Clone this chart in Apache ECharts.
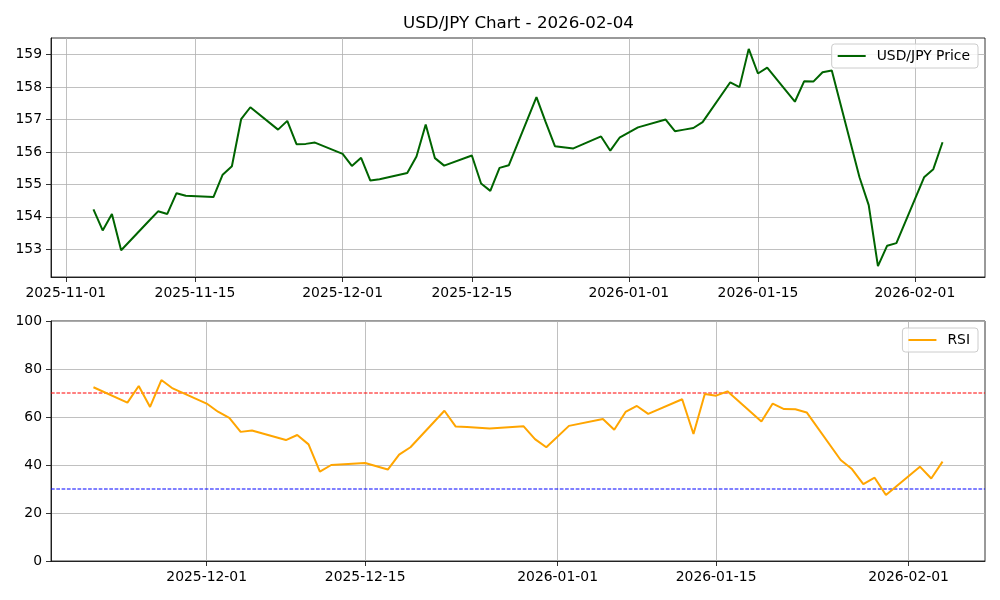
<!DOCTYPE html>
<html><head><meta charset="utf-8">
<script src="https://cdn.jsdelivr.net/npm/echarts@6/dist/echarts.min.js"></script>
<style>html,body{margin:0;padding:0;background:#fff}#c{width:1000px;height:600px}</style>
</head><body><div id="c"></div>
<script>
const priceDates = ['2025-11-04','2025-11-05','2025-11-06','2025-11-07','2025-11-10','2025-11-11','2025-11-12','2025-11-13','2025-11-14',
'2025-11-17','2025-11-18','2025-11-19','2025-11-20','2025-11-21','2025-11-24','2025-11-25','2025-11-26','2025-11-27','2025-11-28',
'2025-12-01','2025-12-02','2025-12-03','2025-12-04','2025-12-05','2025-12-08','2025-12-09','2025-12-10','2025-12-11','2025-12-12',
'2025-12-15','2025-12-16','2025-12-17','2025-12-18','2025-12-19','2025-12-22','2025-12-23','2025-12-24','2025-12-26',
'2025-12-29','2025-12-30','2025-12-31','2026-01-02','2026-01-05','2026-01-06','2026-01-07','2026-01-08','2026-01-09',
'2026-01-12','2026-01-13','2026-01-14','2026-01-15','2026-01-16','2026-01-19','2026-01-20','2026-01-21','2026-01-22','2026-01-23',
'2026-01-26','2026-01-27','2026-01-28','2026-01-29','2026-01-30','2026-02-02','2026-02-03','2026-02-04'];
const priceValues = [154.23,153.58,154.09,152.97,153.87,154.17,154.09,154.73,154.65,
154.61,155.30,155.56,157.01,157.38,156.69,156.96,156.24,156.25,156.29,
155.94,155.57,155.82,155.12,155.16,155.35,155.86,156.85,155.81,155.58,
155.89,155.03,154.80,155.51,155.59,157.69,156.92,156.18,156.11,
156.48,156.04,156.44,156.76,157.00,156.64,156.69,156.74,156.92,
158.15,158.00,159.18,158.42,158.60,157.55,158.18,158.17,158.46,158.51,
155.22,154.36,152.48,153.11,153.19,155.22,155.47,156.30];

const rsiDates = ['2025-11-21','2025-11-24','2025-11-25','2025-11-26','2025-11-27','2025-11-28',
'2025-12-01','2025-12-02','2025-12-03','2025-12-04','2025-12-05','2025-12-08','2025-12-09','2025-12-10','2025-12-11','2025-12-12',
'2025-12-15','2025-12-16','2025-12-17','2025-12-18','2025-12-19','2025-12-22','2025-12-23','2025-12-24','2025-12-26',
'2025-12-29','2025-12-30','2025-12-31','2026-01-02','2026-01-05','2026-01-06','2026-01-07','2026-01-08','2026-01-09',
'2026-01-12','2026-01-13','2026-01-14','2026-01-15','2026-01-16','2026-01-19','2026-01-20','2026-01-21','2026-01-22','2026-01-23',
'2026-01-26','2026-01-27','2026-01-28','2026-01-29','2026-01-30','2026-02-02','2026-02-03','2026-02-04'];
const rsiValues = [72.4,66.0,72.9,64.2,75.4,71.9,
65.6,62.2,59.6,53.8,54.4,50.4,52.5,48.6,37.2,40.0,
40.8,39.5,38.1,44.3,47.4,62.6,56.0,55.8,55.2,
56.1,50.8,47.4,56.3,59.2,54.7,62.1,64.6,61.3,
67.4,52.9,69.6,68.9,70.7,58.1,65.6,63.3,63.2,61.9,
42.1,38.3,32.0,34.7,27.5,39.3,34.4,41.4];

const priceTickDates = ['2025-11-01','2025-11-15','2025-12-01','2025-12-15','2026-01-01','2026-01-15','2026-02-01'];
const rsiTickDates = ['2025-12-01','2025-12-15','2026-01-01','2026-01-15','2026-02-01'];
const priceTicks = [153,154,155,156,157,158,159];
const rsiTicks = [0,20,40,60,80,100];
const overbought = 70;
const oversold = 30;
const titleText = 'USD/JPY Chart - 2026-02-04';
const priceName = 'USD/JPY Price';
const rsiName = 'RSI';

function ts(s){const p=s.split('-').map(Number);return new Date(p[0],p[1]-1,p[2]).getTime();}
function fmt(v){const d=new Date(v);const p=n=>String(n).padStart(2,'0');return d.getFullYear()+'-'+p(d.getMonth()+1)+'-'+p(d.getDate());}
function pad(lo,hi){const r=hi-lo;return [lo-0.05*r,hi+0.05*r];}

const px = pad(ts(priceDates[0]), ts(priceDates[priceDates.length-1]));
const rx = pad(ts(rsiDates[0]), ts(rsiDates[rsiDates.length-1]));
const py = pad(Math.min(...priceValues), Math.max(...priceValues));

const FONT = 'DejaVu Sans';
const gridLine = {show:true, lineStyle:{color:'#b0b0b0', width:0.8}};
const axisLine = {show:true, onZero:false, lineStyle:{color:'#000', width:0.8}};
const tick = (vals)=>({show:true, inside:false, length:5, lineStyle:{color:'#000', width:0.8}, customValues:vals});
const lbl = (vals, f, m)=>({customValues:vals, formatter:f, color:'#000', fontFamily:FONT, fontSize:13.9, margin:m, hideOverlap:false, showMinLabel:true, showMaxLabel:true});

const legendBase = {orient:'vertical', borderColor:'#cccccc', borderWidth:1, borderRadius:3, backgroundColor:'rgba(255,255,255,0.8)',
  icon:'rect', itemWidth:28, itemHeight:2, padding:[5,8,5,6], textStyle:{fontFamily:FONT, fontSize:13.9, color:'#000', padding:[0,0,0,6], lineHeight:14}};

function hline(name, value, color){
  return {name:name, type:'line', xAxisIndex:1, yAxisIndex:1, symbol:'none', showSymbol:false, silent:true, z:1,
    lineStyle:{color:color, width:1, type:[3.7,1.6]}, itemStyle:{color:color},
    data:[[rx[0], value],[rx[1], value]]};
}

const chart = echarts.init(document.getElementById('c'), null, {renderer:'canvas'});
chart.setOption({
  animation:false,
  backgroundColor:'#fff',
  title:{text:titleText, left:398, top:10, textStyle:{fontFamily:FONT, fontSize:16.7, fontWeight:'normal', color:'#000'}},
  legend:[
    Object.assign({}, legendBase, {data:[priceName], right:22, top:44}),
    Object.assign({}, legendBase, {data:[rsiName], right:22, top:328})
  ],
  grid:[
    {left:51, right:15, top:38, height:239, show:true, borderColor:'#000', borderWidth:0.8, containLabel:false},
    {left:51, right:15, top:321, height:240, show:true, borderColor:'#000', borderWidth:0.8, containLabel:false}
  ],
  xAxis:[
    {type:'value', gridIndex:0, min:px[0], max:px[1], scale:true, axisLine:axisLine, splitLine:gridLine,
      axisTick:tick(priceTickDates.map(ts)), axisLabel:lbl(priceTickDates.map(ts), v=>fmt(v), 9)},
    {type:'value', gridIndex:1, min:rx[0], max:rx[1], scale:true, axisLine:axisLine, splitLine:gridLine,
      axisTick:tick(rsiTickDates.map(ts)), axisLabel:lbl(rsiTickDates.map(ts), v=>fmt(v), 9)}
  ],
  yAxis:[
    {type:'value', gridIndex:0, min:py[0], max:py[1], scale:true, axisLine:axisLine, splitLine:gridLine,
      axisTick:tick(priceTicks), axisLabel:lbl(priceTicks, v=>String(v), 9)},
    {type:'value', gridIndex:1, min:0, max:100, axisLine:axisLine, splitLine:gridLine,
      axisTick:tick(rsiTicks), axisLabel:lbl(rsiTicks, v=>String(v), 9)}
  ],
  series:[
    {name:priceName, type:'line', xAxisIndex:0, yAxisIndex:0, symbol:'none', showSymbol:false,
      lineStyle:{color:'#006400', width:2}, itemStyle:{color:'#006400'},
      data:priceDates.map((d,i)=>[ts(d), priceValues[i]])},
    hline('Overbought', overbought, '#ff0000'),
    hline('Oversold', oversold, '#0000ff'),
    {name:rsiName, type:'line', xAxisIndex:1, yAxisIndex:1, symbol:'none', showSymbol:false, z:3,
      lineStyle:{color:'#FFA500', width:2}, itemStyle:{color:'#FFA500'},
      data:rsiDates.map((d,i)=>[ts(d), rsiValues[i]])}
  ]
});
</script></body></html>
